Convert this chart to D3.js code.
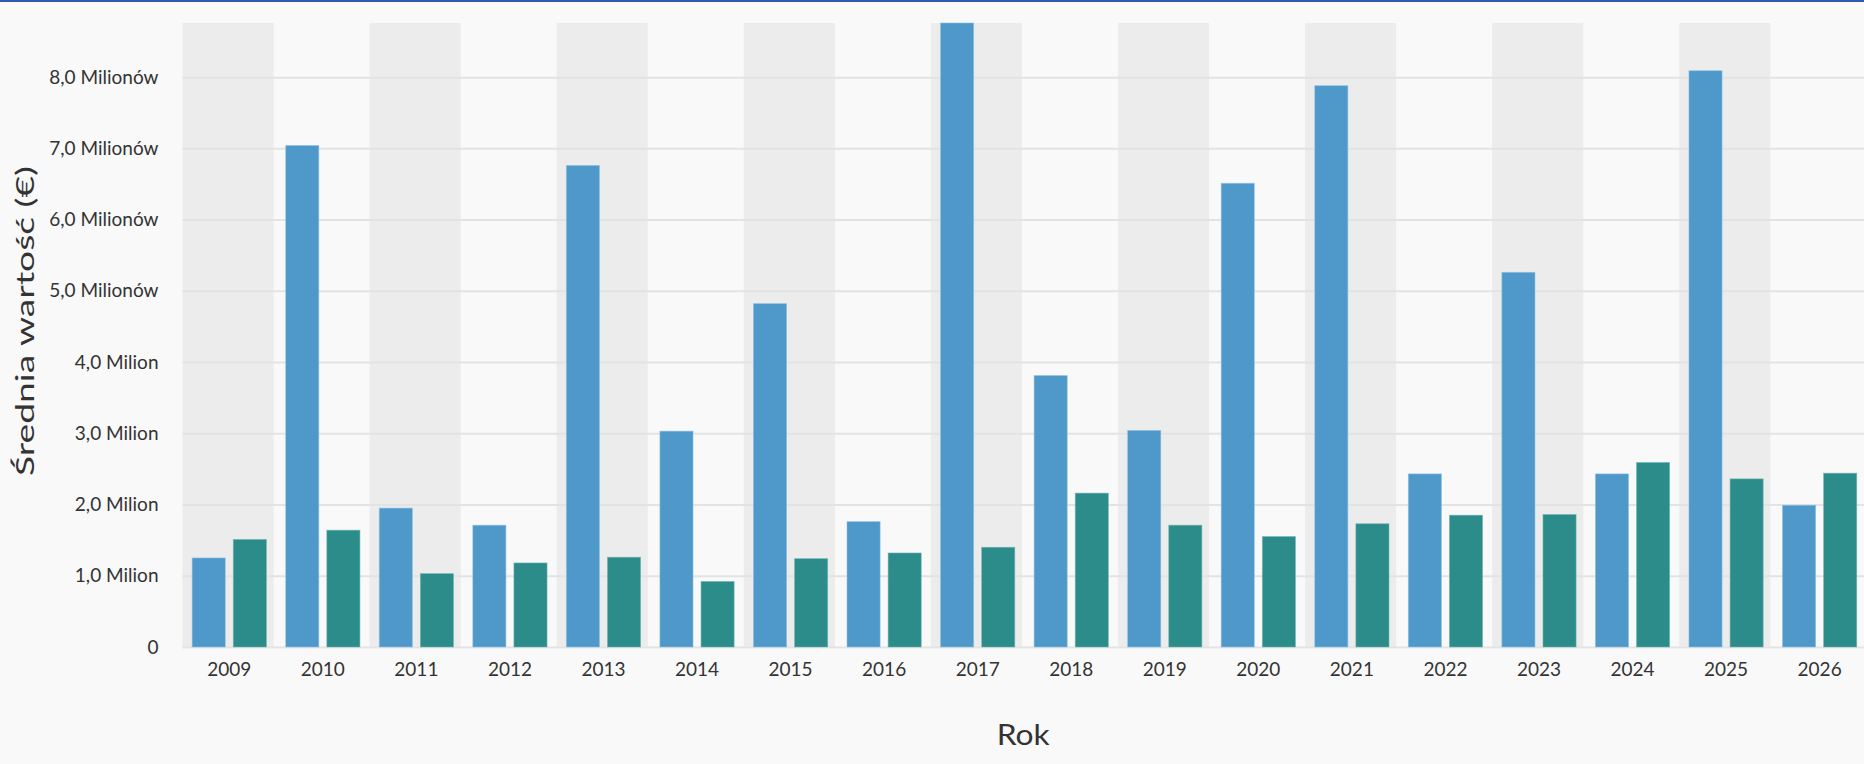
<!DOCTYPE html>
<html>
<head>
<meta charset="utf-8">
<script src="https://cdn.jsdelivr.net/npm/d3@7"></script>
<style>
  html, body { margin: 0; padding: 0; background: #f9f9f9; }
  svg { display: block; }
  text { font-family: Lato, "Open Sans", sans-serif; fill: #333; }
</style>
</head>
<body>
<script>
// ---- Data ----
const years = ["2009","2010","2011","2012","2013","2014","2015","2016","2017","2018","2019","2020","2021","2022","2023","2024","2025","2026"];
// values in millions of €
const seriesBlue = [1.25, 7.04, 1.95, 1.71, 6.76, 3.03, 4.82, 1.76, 8.76, 3.81, 3.04, 6.51, 7.88, 2.43, 5.26, 2.43, 8.09, 1.99];
const seriesTeal = [1.51, 1.64, 1.03, 1.18, 1.26, 0.92, 1.24, 1.32, 1.40, 2.16, 1.71, 1.55, 1.73, 1.85, 1.86, 2.59, 2.36, 2.44];
const seriesKeys = ["blue", "teal"];
const seriesColors = ["#4f98ca", "#2b8c8a"];
const yTickValues = [0, 1, 2, 3, 4, 5, 6, 7, 8];
const yTickLabels = ["0", "1,0 Milion", "2,0 Milion", "3,0 Milion", "4,0 Milion", "5,0 Milionów", "6,0 Milionów", "7,0 Milionów", "8,0 Milionów"];
const yTitle = "Średnia wartość (€)";
const xTitle = "Rok";
const yMax = 8.76;

// ---- Layout ----
const W = 1864, H = 764;
const pLeft = 182.5, pRight = 1866.4, pTop = 23, pBottom = 647;

const svg = d3.select("body").append("svg").attr("width", W).attr("height", H);
svg.append("rect").attr("width", W).attr("height", H).attr("fill", "#f9f9f9");
svg.append("rect").attr("x", 0).attr("y", 0).attr("width", W).attr("height", 2).attr("fill", "#2c5caf");

const x0 = d3.scaleBand().domain(years).range([pLeft, pRight]).padding(0);
const x1 = d3.scaleBand().domain(seriesKeys).range([0, x0.bandwidth()]).paddingInner(0.195).paddingOuter(0.235);
const y = d3.scaleLinear().domain([0, yMax]).range([pBottom, pTop]);

// alternating band backgrounds
svg.append("g").selectAll("rect")
  .data(years.filter((d, i) => i % 2 === 0))
  .join("rect")
  .attr("x", d => x0(d))
  .attr("y", pTop)
  .attr("width", x0.bandwidth() - 2.5)
  .attr("height", pBottom - pTop)
  .attr("fill", "#ececec");

// gridlines
const grid = svg.append("g").attr("transform", `translate(${pLeft},0)`)
  .call(d3.axisLeft(y).tickValues(yTickValues).tickSize(-(W - pLeft)).tickFormat(""));
grid.select(".domain").remove();
grid.selectAll(".tick line").attr("stroke", "#e3e3e3").attr("stroke-width", 2);

// bars
const rows = years.map((yr, i) => ({ year: yr, vals: [seriesBlue[i], seriesTeal[i]] }));
const groups = svg.append("g").selectAll("g")
  .data(rows)
  .join("g")
  .attr("transform", d => `translate(${x0(d.year)},0)`);
groups.selectAll("rect")
  .data(d => d.vals.map((v, j) => ({ key: seriesKeys[j], v, c: seriesColors[j] })))
  .join("rect")
  .attr("x", d => x1(d.key))
  .attr("y", d => y(d.v))
  .attr("width", x1.bandwidth())
  .attr("height", d => y(0) - y(d.v))
  .attr("fill", d => d.c)
  .attr("stroke", d => d.key === "blue" ? "#8cc0e4" : "#6fb5b0")
  .attr("stroke-width", 0.8)
  .attr("stroke-opacity", 0.7);

// y axis labels
const yAxis = svg.append("g").attr("transform", `translate(${pLeft},0)`)
  .call(d3.axisLeft(y).tickValues(yTickValues).tickSize(0).tickPadding(24)
    .tickFormat((d, i) => yTickLabels[i]));
yAxis.select(".domain").remove();
yAxis.selectAll("text").style("font-size", "19px").style("font-family", "Lato, sans-serif").attr("fill", "#333");

// x axis labels
const xAxis = svg.append("g").attr("transform", `translate(0,${pBottom})`)
  .call(d3.axisBottom(x0).tickSize(0).tickPadding(16));
xAxis.select(".domain").remove();
xAxis.selectAll("text").style("font-size", "19px").style("font-family", "Lato, sans-serif").attr("fill", "#333");

// titles
svg.append("text")
  .attr("transform", "translate(24,321) rotate(-90)")
  .attr("text-anchor", "middle")
  .attr("dominant-baseline", "central")
  .attr("textLength", 310)
  .attr("lengthAdjust", "spacingAndGlyphs")
  .style("font-size", "25px")
  .text(yTitle);

svg.append("text")
  .attr("x", (pLeft + W) / 2)
  .attr("y", 745)
  .attr("text-anchor", "middle")
  .attr("textLength", 53)
  .attr("lengthAdjust", "spacingAndGlyphs")
  .style("font-size", "28px")
  .text(xTitle);
</script>
</body>
</html>
